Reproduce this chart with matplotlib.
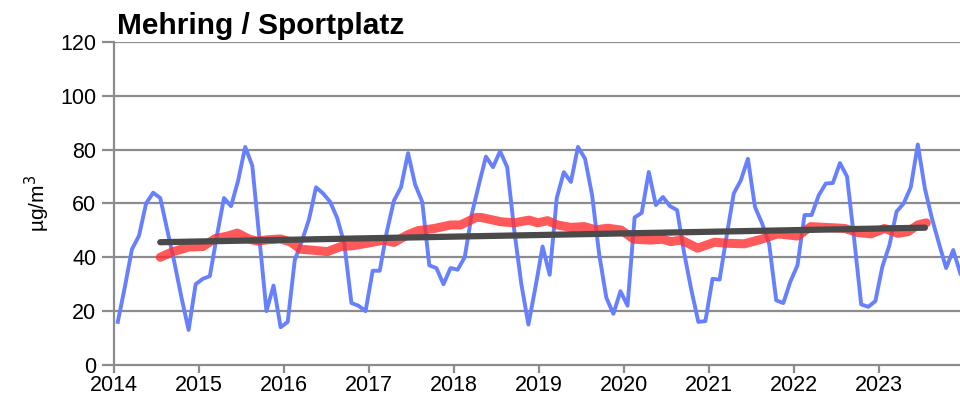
import matplotlib.pyplot as plt
import numpy as np

plt.rcParams['font.family'] = ['Liberation Sans', 'DejaVu Sans']

# monthly values 2014-01 .. 2023-12 (µg/m³)
monthly = [16, 29, 43, 48, 60, 64, 62, 50, 38, 25, 13, 30,
           32, 33, 48, 62, 59, 68.5, 81, 74, 47, 20, 29.5, 14,
           16, 39, 46, 54, 66, 63.7, 60.6, 54.5, 45, 23, 22, 20,
           35, 35, 49.5, 61, 66, 78.7, 67, 60.6, 37, 36, 30, 36,
           35.4, 40, 56, 67, 77.4, 73.5, 79.4, 73.5, 50, 30, 15, 29,
           44, 33.5, 62, 71.6, 68, 81, 76.6, 63, 41, 25, 19, 27.4,
           22, 54.8, 56.5, 71.7, 59.4, 62.4, 59, 57.5, 41.5, 28, 16, 16.3,
           32, 31.7, 48, 63.7, 68.6, 76.6, 58.7, 52.6, 45, 24, 23, 31,
           37, 55.7, 55.7, 63, 67.4, 67.6, 75, 70, 47, 22.5, 21.6, 23.7,
           36.6, 44.6, 57, 60, 66, 81.9, 65.5, 54.4, 45, 36, 42.7, 34]

# running mean (red), month index -> value
red_month = [6, 7.7, 10, 12, 13.8, 15.4, 16.9, 18.5, 19.7, 21.1, 23, 24.4, 25.8,
             27.7, 29.6, 31.5, 33.2, 35.2, 37.6, 39, 40.9, 42.4, 44.7, 47, 48.4,
             50.6, 51.3, 54.1, 56, 58.1, 59.3, 60.7, 62.1, 64, 65.9, 67.5, 69.2,
             71.1, 72.9, 75.3, 77, 78.1, 79.6, 81.9, 84.3, 86.2, 88.5, 90.9, 93.2,
             96, 97.9, 99.8, 101.5, 102.7, 104.5, 106.4, 108.3, 110.2, 111.6, 113, 114.2]
red_val = [40, 42, 43.8, 44, 47, 47.8, 49, 46.8, 46, 46.5, 46.8, 45.7, 43,
           42.6, 42.1, 44, 44.3, 45.2, 46.4, 45.5, 48.3, 49.9, 50.7, 52, 52,
           54.8, 54.8, 53.2, 52.8, 53.8, 52.8, 53.6, 52, 51.1, 51.4, 50.2, 50.8,
           50.1, 46.7, 46.4, 46.7, 45.8, 46.4, 43.4, 45.6, 45.2, 45, 46.7, 48.7,
           47.9, 51.4, 51.1, 50.9, 50.7, 49.2, 48.7, 50.7, 48.9, 49.5, 52, 52.8]

# linear trend
trend_month = [6, 114]
trend_val = [45.6, 51.0]

years = list(range(2014, 2024))

t = 2014 + (np.arange(len(monthly)) + 0.5) / 12
red_t = 2014 + (np.array(red_month) + 0.5) / 12
trend_t = 2014 + (np.array(trend_month) + 0.5) / 12

fig = plt.figure(figsize=(9.6, 4.11), dpi=100)
ax = fig.add_axes([0.119, 0.112, 0.885, 0.786])

grid_c = '#8c8c8c'
for v in range(20, 121, 20):
    ax.axhline(v, color=grid_c, lw=1.6, zorder=0)

ax.plot(t, monthly, color='#6680ff', lw=2.8, zorder=2)
ax.plot(red_t, red_val, color='#ff3030', alpha=0.8, lw=6.5, solid_capstyle='round', zorder=3)
ax.plot(trend_t, trend_val, color='#4a4a4a', lw=4.5, solid_capstyle='round', zorder=4)

ax.set_xlim(2014, 2024)
ax.set_ylim(0, 120)
ax.set_xticks(years)
ax.set_yticks(range(0, 121, 20))
ax.tick_params(axis='both', labelsize=15.5, color=grid_c, width=1.6, direction='out')
ax.tick_params(axis='y', length=9, pad=4)
ax.tick_params(axis='x', length=6, pad=1)

for s in ['top', 'right']:
    ax.spines[s].set_visible(False)
for s in ['left', 'bottom']:
    ax.spines[s].set_color(grid_c)
    ax.spines[s].set_linewidth(1.6)

ax.set_ylabel('µg/m$^3$', fontsize=15, labelpad=6)
fig.text(0.122, 0.937, 'Mehring / Sportplatz', fontsize=21.5, fontweight='bold', va='center')

fig.savefig('out.png', dpi=100)
